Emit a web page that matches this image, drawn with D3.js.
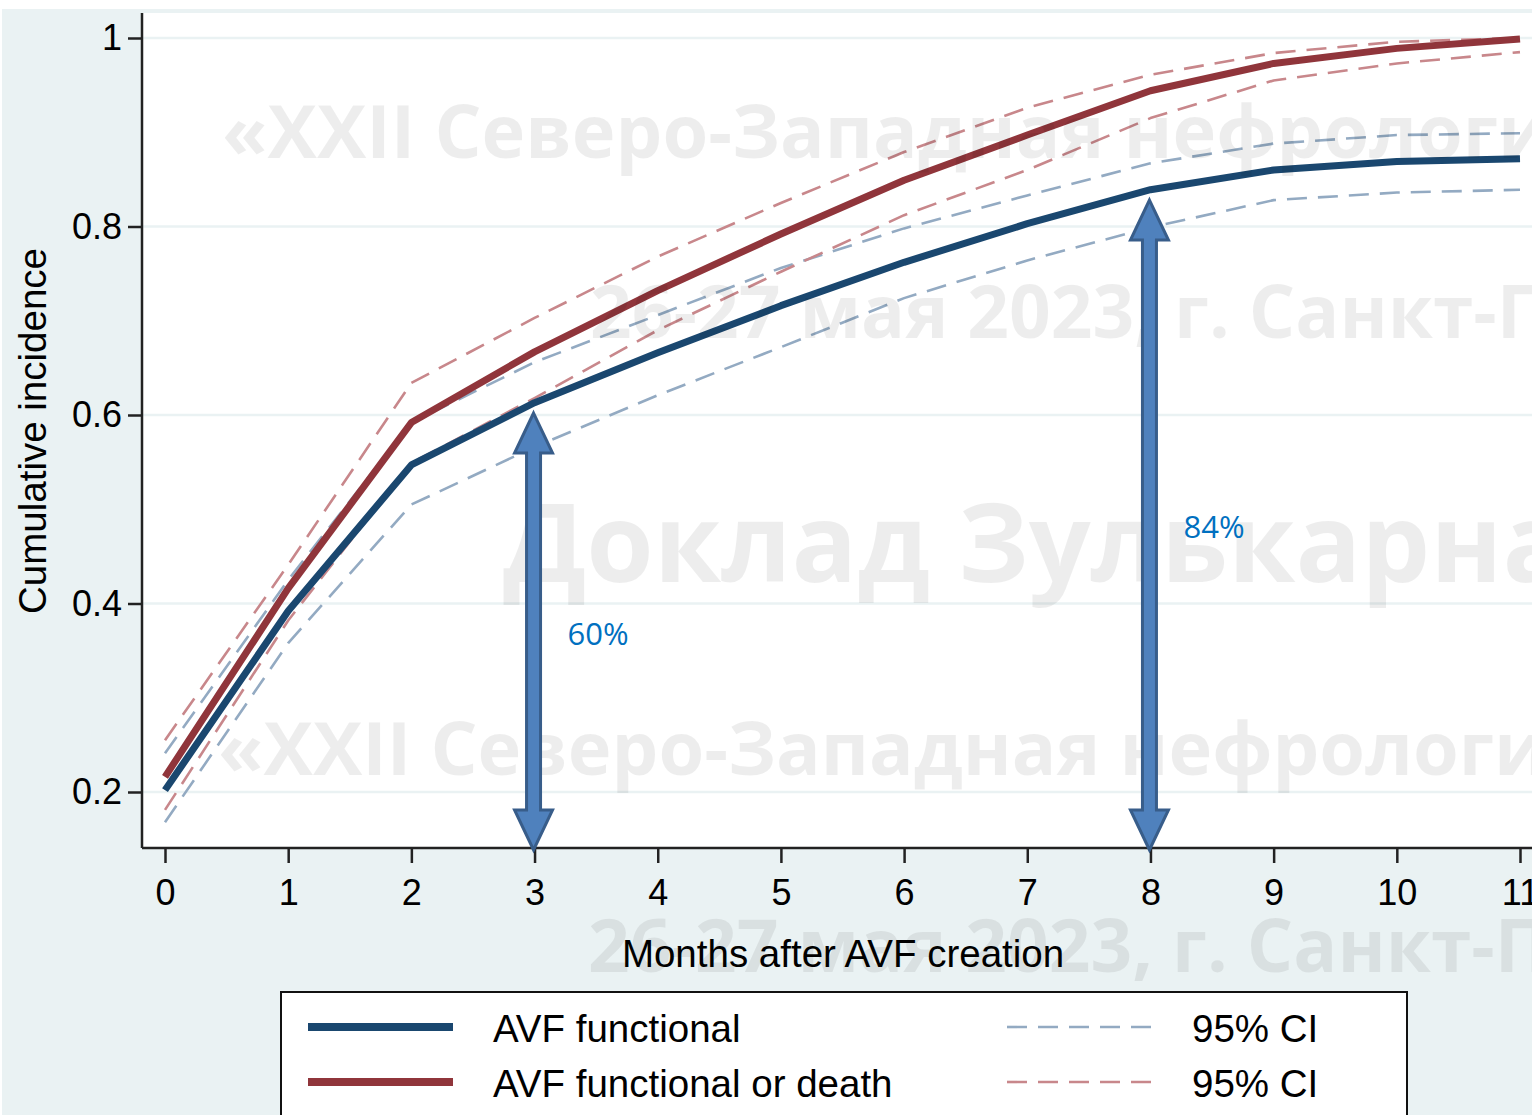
<!DOCTYPE html>
<html>
<head>
<meta charset="utf-8">
<script src="https://cdn.jsdelivr.net/npm/d3@7"></script>
<style>
  body { margin: 0; background: #fff; }
  text { font-family: "Liberation Sans", Arial, sans-serif; }
</style>
</head>
<body>
<div id="chart"></div>
<script>
// data
const months = [0, 1, 2, 3, 4, 5, 6, 7, 8, 9, 10, 11];
const functional   = [0.202, 0.392, 0.547, 0.613, 0.666, 0.716, 0.762, 0.803, 0.839, 0.860, 0.869, 0.872];
const functionalLo = [0.168, 0.358, 0.505, 0.566, 0.621, 0.672, 0.724, 0.764, 0.799, 0.828, 0.836, 0.839];
const functionalHi = [0.241, 0.425, 0.592, 0.656, 0.706, 0.756, 0.798, 0.833, 0.867, 0.888, 0.897, 0.899];
const orDeath   = [0.216, 0.416, 0.592, 0.667, 0.732, 0.792, 0.849, 0.897, 0.944, 0.973, 0.989, 0.999];
const orDeathLo = [0.181, 0.382, 0.549, 0.618, 0.690, 0.752, 0.812, 0.860, 0.915, 0.955, 0.973, 0.985];
const orDeathHi = [0.255, 0.441, 0.634, 0.703, 0.768, 0.825, 0.879, 0.926, 0.961, 0.984, 0.996, 1.000];
const yTicks = [0.2, 0.4, 0.6, 0.8, 1];
const xTicks = months;
const arrowMonths = [3, 8];
const arrowTops = [0.602, 0.828];
const arrowLabels = ["60%", "84%"];
const arrowLabelY = [0.356, 0.469];
const legendLabels = ["AVF functional", "AVF functional or death"];
const ciLabel = "95% CI";
const watermarks = [
  {text: "«XXII Северо-Западная нефрологическая школа»", x: 222, y: 158, size: 74},
  {text: "26-27 мая 2023, г. Санкт-Петербург", x: 590, y: 338, size: 73},
  {text: "Доклад Зулькарнаева А.Б.", x: 503, y: 582, size: 109},
  {text: "«XXII Северо-Западная нефрологическая школа»", x: 218, y: 775, size: 74},
  {text: "26-27 мая 2023, г. Санкт-Петербург", x: 588, y: 972, size: 73}
];

const width = 1532, height = 1115;
const navy = "#1a476f", maroon = "#90353b";
const navyCI = "#93aac2", maroonCI = "#c8878b";

const svg = d3.select("#chart").append("svg")
  .attr("width", width)
  .attr("height", height);

// backgrounds
svg.append("rect").attr("x", 2).attr("y", 9).attr("width", width).attr("height", height)
  .attr("fill", "#eaf2f3");

const x = d3.scaleLinear().domain([0, 11]).range([165, 1520]);
const y = d3.scaleLinear().domain([0.2, 1]).range([792, 38]);
const plotLeft = 142, plotBottom = 848, plotTop = 12;

svg.append("rect")
  .attr("x", plotLeft).attr("y", plotTop)
  .attr("width", width - plotLeft).attr("height", plotBottom - plotTop)
  .attr("fill", "#fff");
svg.append("line")
  .attr("x1", plotLeft).attr("x2", width).attr("y1", plotTop).attr("y2", plotTop)
  .attr("stroke", "#eaf2f3").attr("stroke-width", 2);

// grid
svg.append("g").selectAll("line")
  .data(yTicks)
  .join("line")
  .attr("x1", plotLeft).attr("x2", width)
  .attr("y1", d => y(d)).attr("y2", d => y(d))
  .attr("stroke", "#eaf2f3").attr("stroke-width", 2.5);

// lines
const line = d3.line().x((d, i) => x(months[i])).y(d => y(d));
const series = [
  {v: functionalLo, c: navyCI, w: 2.6, dash: "20,11"},
  {v: functionalHi, c: navyCI, w: 2.6, dash: "20,11"},
  {v: orDeathLo, c: maroonCI, w: 2.6, dash: "20,11"},
  {v: orDeathHi, c: maroonCI, w: 2.6, dash: "20,11"},
  {v: functional, c: navy, w: 7, dash: null},
  {v: orDeath, c: maroon, w: 7, dash: null}
];
svg.append("g").selectAll("path")
  .data(series)
  .join("path")
  .attr("d", d => line(d.v))
  .attr("fill", "none")
  .attr("stroke", d => d.c)
  .attr("stroke-width", d => d.w)
  .attr("stroke-dasharray", d => d.dash)
  .attr("stroke-linejoin", "round");

// watermark overlay
svg.append("g").selectAll("text")
  .data(watermarks)
  .join("text")
  .attr("x", d => d.x).attr("y", d => d.y)
  .style("font-family", "'Open Sans', sans-serif")
  .style("font-weight", 700)
  .style("font-size", d => d.size + "px")
  .attr("fill", "#000").attr("fill-opacity", 0.07)
  .text(d => d.text);

// axes
const yAxis = svg.append("g")
  .attr("transform", `translate(${plotLeft},0)`)
  .call(d3.axisLeft(y).tickValues(yTicks).tickFormat(d3.format("~g")).tickSize(14).tickPadding(6));
yAxis.select(".domain").attr("d", `M0,${plotTop + 1}V${plotBottom}`);
const xAxis = svg.append("g")
  .attr("transform", `translate(0,${plotBottom})`)
  .call(d3.axisBottom(x).tickValues(xTicks).tickSize(15).tickPadding(16));
xAxis.select(".domain").attr("d", `M${plotLeft},0H${width}`);
svg.selectAll(".domain").attr("stroke", "#222").attr("stroke-width", 2.5);
svg.selectAll(".tick line").attr("stroke", "#222").attr("stroke-width", 2.5);
svg.selectAll(".tick text")
  .style("font-family", "'Liberation Sans', Arial, sans-serif")
  .style("font-size", "36px").attr("fill", "#000");

svg.append("text")
  .attr("transform", "translate(46,431) rotate(-90)")
  .attr("text-anchor", "middle")
  .style("font-size", "38.5px")
  .text("Cumulative incidence");
svg.append("text")
  .attr("x", 843).attr("y", 967)
  .attr("text-anchor", "middle")
  .style("font-size", "38.5px")
  .text("Months after AVF creation");

// double arrows
const arrowG = svg.append("g");
arrowMonths.forEach((m, i) => {
  const cx = x(m) - 1, top = y(arrowTops[i]), bot = plotBottom + 2;
  const hw = 19, sw = 7, hh = 40;
  const pts = [
    [cx, top], [cx + hw, top + hh], [cx + sw, top + hh], [cx + sw, bot - hh],
    [cx + hw, bot - hh], [cx, bot], [cx - hw, bot - hh], [cx - sw, bot - hh],
    [cx - sw, top + hh], [cx - hw, top + hh]
  ];
  arrowG.append("path")
    .attr("d", d3.line()(pts) + "Z")
    .attr("fill", "#4f81bd")
    .attr("stroke", "#385d8a")
    .attr("stroke-width", 3)
    .attr("stroke-linejoin", "miter");
  arrowG.append("text")
    .attr("x", cx + 34).attr("y", y(arrowLabelY[i]))
    .style("font-family", "'Open Sans', sans-serif")
    .style("font-size", "31px")
    .attr("fill", "#0070c0")
    .text(arrowLabels[i]);
});

// legend
const lg = svg.append("g");
lg.append("rect")
  .attr("x", 281).attr("y", 992).attr("width", 1126).attr("height", 140)
  .attr("fill", "#fff").attr("stroke", "#111").attr("stroke-width", 2);
const legendRows = [
  {label: legendLabels[0], c: navy, ci: navyCI, y: 1027},
  {label: legendLabels[1], c: maroon, ci: maroonCI, y: 1082}
];
legendRows.forEach(r => {
  lg.append("line").attr("x1", 308).attr("x2", 453).attr("y1", r.y).attr("y2", r.y)
    .attr("stroke", r.c).attr("stroke-width", 8);
  lg.append("text").attr("x", 493).attr("y", r.y + 15)
    .style("font-size", "38.5px").text(r.label);
  lg.append("line").attr("x1", 1007).attr("x2", 1155).attr("y1", r.y).attr("y2", r.y)
    .attr("stroke", r.ci).attr("stroke-width", 2.6).attr("stroke-dasharray", "20,11");
  lg.append("text").attr("x", 1192).attr("y", r.y + 15)
    .style("font-size", "38.5px").text(ciLabel);
});
</script>
</body>
</html>
